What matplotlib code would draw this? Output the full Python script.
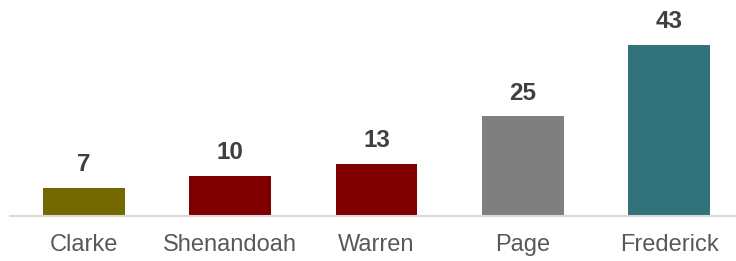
import matplotlib.pyplot as plt

# ==================================================
CONDADOS = ["Clarke", "Shenandoah", "Warren", "Page", "Frederick"]
VALORES = [7, 10, 13, 25, 43]
COLORES = ["#736900", "#7f0000", "#7f0000", "#7f7f7f", "#32737b"]
# ==================================================

plt.rcParams["font.family"] = ["Liberation Sans", "DejaVu Sans"]

fig = plt.figure(figsize=(7.36, 2.61), dpi=100)
ax = fig.add_axes([10 / 736, 1 - 216 / 261, 726 / 736, 211 / 261])

x = range(len(CONDADOS))
bars = ax.bar(x, VALORES, width=0.56, color=COLORES, zorder=2)
for b, v in zip(bars, VALORES):
    ax.annotate(f"{v}", (b.get_x() + b.get_width() / 2, v), xytext=(0, 8.5),
                textcoords="offset points", ha="center", va="bottom",
                fontsize=17.5, fontweight="bold", color="#404040")

ax.set_xlim(-0.506, 4.458); ax.set_ylim(0, 53)
ax.set_xticks(list(x)); ax.set_xticklabels(CONDADOS, fontsize=17, color="#595959")
ax.tick_params(axis="x", length=0, pad=13)
ax.set_yticks([])
for s in ["top", "right", "left"]:
    ax.spines[s].set_visible(False)
ax.spines["bottom"].set_color("#d9d9d9"); ax.spines["bottom"].set_linewidth(1.5)

fig.savefig("out.png", dpi=100)
